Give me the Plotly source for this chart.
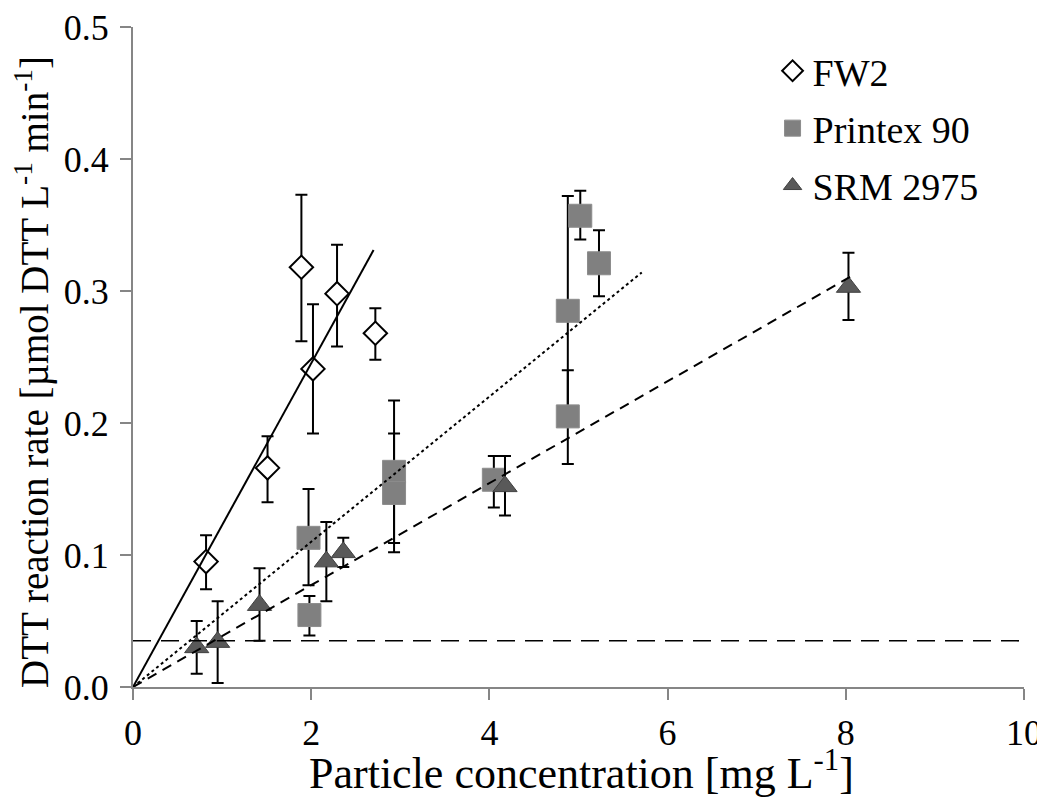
import plotly.graph_objects as go

# ---- data ----
fw2_x = [0.82, 1.51, 1.89, 2.02, 2.29, 2.72]
fw2_y = [0.095, 0.166, 0.318, 0.241, 0.298, 0.268]
fw2_hi = [0.115, 0.190, 0.373, 0.290, 0.335, 0.287]
fw2_lo = [0.074, 0.140, 0.262, 0.192, 0.258, 0.248]

p90_x = [1.97, 1.98, 2.93, 2.93, 4.05, 4.88, 4.88, 5.02, 5.23]
p90_y = [0.113, 0.0545, 0.163, 0.147, 0.157, 0.205, 0.285, 0.357, 0.321]
p90_hi = [0.150, 0.069, 0.217, 0.192, 0.175, 0.240, 0.372, 0.376, 0.346]
p90_lo = [0.077, 0.039, 0.109, 0.102, 0.136, 0.169, 0.198, 0.339, 0.296]

srm_x = [0.715, 0.95, 1.42, 2.17, 2.36, 4.175, 8.03]
srm_y = [0.030, 0.034, 0.062, 0.095, 0.102, 0.152, 0.303]
srm_hi = [0.050, 0.065, 0.090, 0.125, 0.113, 0.175, 0.329]
srm_lo = [0.010, 0.003, 0.035, 0.065, 0.091, 0.130, 0.278]

# linear fits through origin: slope and x extent
fw2_slope, fw2_xmax = 0.1226, 2.70
p90_slope, p90_xmax = 0.0550, 5.71
srm_slope, srm_xmax = 0.0386, 8.05

lod_y = 0.035
x_ticks = [0, 2, 4, 6, 8, 10]
y_ticks = [0.0, 0.1, 0.2, 0.3, 0.4, 0.5]

x_title = "Particle concentration [mg L<sup>-1</sup>]"
y_title = "DTT reaction rate [µmol DTT L<sup>-1</sup> min<sup>-1</sup>]"

FONT = "Liberation Serif"


def err(y, hi, lo):
    return dict(type="data", symmetric=False,
                array=[h - v for h, v in zip(hi, y)],
                arrayminus=[v - l for v, l in zip(y, lo)],
                color="black", thickness=2, width=6)


fig = go.Figure()

fig.add_trace(go.Scatter(
    x=fw2_x, y=fw2_y, mode="markers", name="FW2", legendgroup="a",
    error_y=err(fw2_y, fw2_hi, fw2_lo),
    marker=dict(symbol="diamond", size=18, color="white",
                line=dict(color="black", width=2))))

fig.add_trace(go.Scatter(
    x=p90_x, y=p90_y, mode="markers", name="Printex 90", legendgroup="b",
    error_y=err(p90_y, p90_hi, p90_lo),
    marker=dict(symbol="square", size=23, color="#808080",
                line=dict(color="#8c8c8c", width=1))))

fig.add_trace(go.Scatter(
    x=srm_x, y=srm_y, mode="markers", name="SRM 2975", legendgroup="c",
    error_y=err(srm_y, srm_hi, srm_lo),
    marker=dict(symbol="triangle-up", size=21, color="#595959",
                line=dict(color="#404040", width=1))))

# trendlines
for slope, xmax, dash in [(fw2_slope, fw2_xmax, "solid"),
                          (p90_slope, p90_xmax, "dot"),
                          (srm_slope, srm_xmax, "10px,7px")]:
    fig.add_trace(go.Scatter(
        x=[0, xmax], y=[0, slope * xmax], mode="lines", showlegend=False,
        line=dict(color="black", width=2, dash=dash), hoverinfo="skip"))

# detection limit line
fig.add_trace(go.Scatter(
    x=[x_ticks[0], x_ticks[-1]], y=[lod_y, lod_y], mode="lines", showlegend=False,
    line=dict(color="black", width=1.6, dash="18px,10px"), hoverinfo="skip"))

axis_common = dict(showgrid=False, zeroline=False, showline=True, automargin=False,
                   linecolor="#868686", linewidth=2, ticks="outside",
                   ticklen=11, tickwidth=2, tickcolor="#868686",
                   ticklabeloverflow="allow",
                   tickfont=dict(family=FONT, size=36, color="black"))

fig.update_xaxes(range=[0, 10], tickvals=x_ticks, ticktext=[str(v) for v in x_ticks],
                 ticklabelstandoff=2, **axis_common)
fig.update_yaxes(range=[0, 0.5], tickvals=y_ticks, ticktext=[f"{v:.1f}" for v in y_ticks],
                 ticklabelstandoff=4, **axis_common)

# axis titles placed as annotations for exact positioning
fig.add_annotation(text=x_title, xref="paper", yref="paper", x=0.5, y=0,
                   xanchor="center", yanchor="middle", xshift=3, yshift=-83,
                   showarrow=False, font=dict(family=FONT, size=44, color="black"))
fig.add_annotation(text=y_title, xref="paper", yref="paper", x=0, y=0.4774,
                   xanchor="center", yanchor="middle", xshift=-100, textangle=-90,
                   showarrow=False, font=dict(family=FONT, size=39, color="black"))

# page body has an 8px margin: shrink the figure so the plot area lands where the reference has it
fig.update_layout(
    width=1037, height=793,
    margin=dict(l=125, r=21, t=19, b=114, autoexpand=False),
    paper_bgcolor="white", plot_bgcolor="white",
    font=dict(family=FONT, color="black"),
    legend=dict(x=0.7178, y=0.981, xanchor="left", yanchor="top",
                font=dict(family=FONT, size=38, color="black"),
                bgcolor="rgba(0,0,0,0)", tracegroupgap=5),
)

fig.write_html("out.html")
